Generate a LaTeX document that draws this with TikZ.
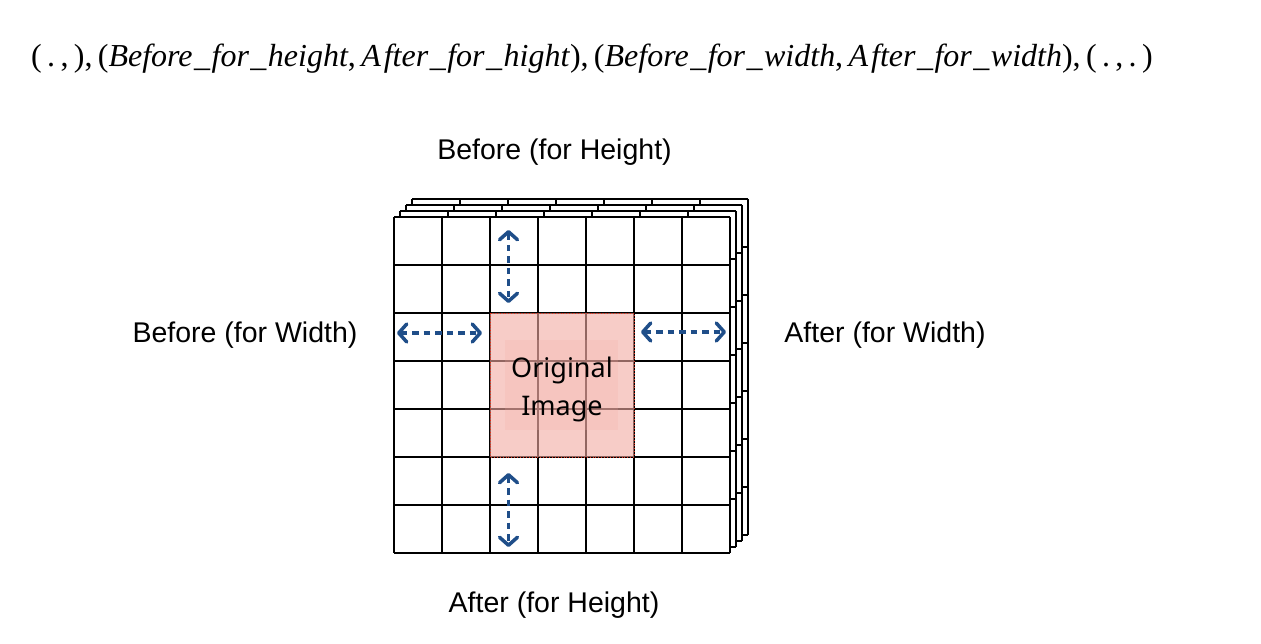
\documentclass[tikz,border=0pt]{standalone}
\usepackage{fontspec}
\setmainfont{Liberation Serif}
\newfontfamily\labelfont{Liberation Sans}
\newfontfamily\imgfont{Noto Sans}
\usetikzlibrary{arrows.meta}
\definecolor{arrowblue}{HTML}{1F4E89}
\definecolor{pinkfill}{RGB}{243,170,163}
\definecolor{dotred}{RGB}{225,50,30}
\newcommand{\usc}{\kern1.5pt\_\kern1.5pt}
\newcommand{\Aft}{A\kern3pt fter}
\tikzset{
  gridline/.style={draw=black, line width=1.3pt},
  dasharrow/.style={draw=arrowblue, line width=3.5pt, dash pattern=on 6.5pt off 5pt,
    {Straight Barb[length=8pt,width=18pt,round]}-{Straight Barb[length=8pt,width=18pt,round]}},
  sidelabel/.style={font=\labelfont\fontsize{28.5}{34}\selectfont, inner sep=0pt},
}
\begin{document}
\begin{tikzpicture}[x=1pt,y=-1pt]
\useasboundingbox (0,0) rectangle (1261,644);
\fill[white] (0,0) rectangle (1261,644);

% formula
\node[anchor=base west, inner sep=0pt, font=\fontsize{32}{36}\selectfont] (formula) at (31,67)
 {(\,.\,,\,),\,(\textit{Before\usc for\usc height},\,\textit{\Aft\usc for\usc hight}),\,(\textit{Before\usc for\usc width},\,\textit{\Aft\usc for\usc width}),\,(\,.\,,\,.\,)};

% stacked grids
\foreach \k in {3,2,1,0} {
  \begin{scope}[shift={(394+6*\k,217-6*\k)}]
    \fill[white] (0,0) rectangle (336,336);
    \foreach \i in {0,...,7} {
      \draw[gridline] (\i*48,0) -- (\i*48,336);
      \draw[gridline] (0,\i*48) -- (336,\i*48);
    }
  \end{scope}
}

% original image region
\fill[pinkfill, opacity=0.6] (490,313) rectangle (634,457);
\fill[pinkfill, opacity=0.2] (505,340) rectangle (618,430);
\draw[dotred, line width=0.9pt, dotted] (490,313) rectangle (634,457);
\node[font=\imgfont\fontsize{27}{38}\selectfont, align=center, inner sep=0pt] (orig) at (562,389) {Original\\Image};

% arrows
\coordinate (th1) at (508.5,230);
\coordinate (th2) at (508.5,303);
\coordinate (bh1) at (508.5,473);
\coordinate (bh2) at (508.5,547);
\coordinate (lw1) at (397,333);
\coordinate (lw2) at (482,333);
\coordinate (rw1) at (641,332);
\coordinate (rw2) at (726,332);
\draw[dasharrow] (th1) -- (th2);
\draw[dasharrow] (bh1) -- (bh2);
\draw[dasharrow] (lw1) -- (lw2);
\draw[dasharrow] (rw1) -- (rw2);

% labels
\node[sidelabel, anchor=base] (bh) at (554.5,159.5) {Before (for Height)};
\node[sidelabel, anchor=base] (ah) at (554,612) {After (for Height)};
\node[sidelabel, anchor=base] (bw) at (245,342) {Before (for Width)};
\node[sidelabel, anchor=base] (aw) at (885,342) {After (for Width)};
\end{tikzpicture}
\end{document}
